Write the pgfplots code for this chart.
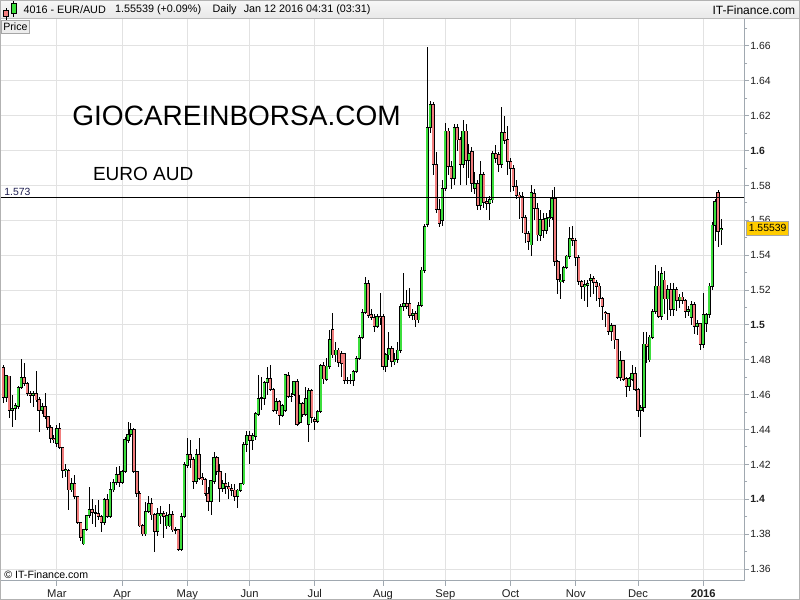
\documentclass[border=0pt]{standalone}
\usepackage{pgfplots}
\pgfplotsset{compat=1.18}
\usepackage{pgfplotstable}
\usepackage{fontspec}
\setmainfont{Liberation Sans}

\definecolor{upfill}{RGB}{60,222,60}
\definecolor{downfill}{RGB}{242,125,125}
\definecolor{gridgray}{RGB}{226,226,226}
\definecolor{framegray}{RGB}{160,168,176}
\definecolor{tagyellow}{RGB}{255,204,0}
\definecolor{levelnavy}{RGB}{30,30,80}

% Daily EUR/AUD candles: k = trading-day index, o h l c = open high low close
\pgfplotstableread{
k o h l c
0 1.4757 1.4771 1.4551 1.4585
1 1.4585 1.4715 1.4560 1.4707
2 1.4707 1.4710 1.4465 1.4512
3 1.4512 1.4598 1.4417 1.4520
4 1.4522 1.4550 1.4455 1.4535
5 1.4535 1.4650 1.4520 1.4642
6 1.4642 1.4805 1.4630 1.4700
7 1.4700 1.4784 1.4650 1.4665
8 1.4665 1.4670 1.4590 1.4608
9 1.4608 1.4620 1.4550 1.4598
10 1.4598 1.4620 1.4532 1.4605
11 1.4605 1.4733 1.4560 1.4570
12 1.4574 1.4585 1.4388 1.4508
13 1.4508 1.4550 1.4490 1.4532
14 1.4532 1.4610 1.4460 1.4474
15 1.4474 1.4480 1.4400 1.4413
16 1.4413 1.4425 1.4320 1.4350
17 1.4350 1.4370 1.4320 1.4345
18 1.4321 1.4425 1.4300 1.4407
19 1.4407 1.4440 1.4290 1.4298
20 1.4298 1.4302 1.4120 1.4165
21 1.4165 1.4200 1.4130 1.4170
22 1.4165 1.4175 1.3939 1.4054
23 1.4054 1.4120 1.4040 1.4092
24 1.4092 1.4140 1.4000 1.4015
25 1.4015 1.4020 1.3860 1.3866
26 1.3866 1.3866 1.3760 1.3782
27 1.3744 1.3830 1.3735 1.3828
28 1.3828 1.3910 1.3820 1.3905
29 1.3905 1.4073 1.3890 1.3943
30 1.3943 1.4000 1.3860 1.3924
31 1.3924 1.3970 1.3840 1.3920
32 1.3920 1.3998 1.3880 1.3901
33 1.3901 1.3910 1.3810 1.3866
34 1.3866 1.4010 1.3850 1.3996
35 1.3996 1.4030 1.3890 1.3901
36 1.3901 1.4100 1.3890 1.4054
37 1.4054 1.4115 1.4040 1.4096
38 1.4096 1.4187 1.4080 1.4140
39 1.4140 1.4190 1.4070 1.4096
40 1.4096 1.4170 1.4090 1.4159
41 1.4159 1.4360 1.4150 1.4340
42 1.4340 1.4445 1.4320 1.4373
43 1.4373 1.4440 1.4360 1.4402
44 1.4402 1.4410 1.4150 1.4159
45 1.4159 1.4165 1.4015 1.4035
46 1.4035 1.4045 1.3840 1.3847
47 1.3847 1.3860 1.3790 1.3801
48 1.3801 1.3985 1.3790 1.3930
49 1.3930 1.4020 1.3920 1.3977
50 1.3977 1.4005 1.3880 1.3910
51 1.3910 1.3920 1.3700 1.3815
52 1.3815 1.3950 1.3790 1.3920
53 1.3905 1.3960 1.3860 1.3920
54 1.3920 1.3935 1.3778 1.3901
55 1.3847 1.3925 1.3830 1.3905
56 1.3847 1.3975 1.3840 1.3910
57 1.3910 1.3935 1.3810 1.3824
58 1.3828 1.3840 1.3800 1.3824
59 1.3824 1.3830 1.3705 1.3713
60 1.3713 1.3920 1.3705 1.3901
61 1.3901 1.4215 1.3890 1.4197
62 1.4193 1.4350 1.4180 1.4258
63 1.4258 1.4340 1.4180 1.4230
64 1.4229 1.4240 1.4060 1.4101
65 1.4101 1.4290 1.4090 1.4254
66 1.4254 1.4350 1.4110 1.4120
67 1.4126 1.4150 1.4080 1.4111
68 1.4111 1.4120 1.4020 1.4034
69 1.4034 1.4072 1.3930 1.3986
70 1.3986 1.4111 1.3910 1.4105
71 1.4105 1.4273 1.4090 1.4240
72 1.4240 1.4250 1.4140 1.4158
73 1.4158 1.4200 1.3986 1.4061
74 1.4061 1.4110 1.4040 1.4088
75 1.4088 1.4150 1.4030 1.4072
76 1.4072 1.4100 1.4000 1.4061
77 1.4061 1.4090 1.4020 1.4053
78 1.4053 1.4088 1.3990 1.4015
79 1.4015 1.4060 1.3948 1.4053
80 1.4053 1.4095 1.4040 1.4088
81 1.4088 1.4330 1.4080 1.4315
82 1.4315 1.4390 1.4273 1.4367
83 1.4367 1.4390 1.4202 1.4340
84 1.4340 1.4380 1.4280 1.4363
85 1.4363 1.4500 1.4340 1.4489
86 1.4489 1.4713 1.4480 1.4579
87 1.4579 1.4700 1.4510 1.4583
88 1.4579 1.4680 1.4540 1.4669
89 1.4669 1.4761 1.4600 1.4690
90 1.4690 1.4770 1.4620 1.4631
91 1.4631 1.4640 1.4500 1.4512
92 1.4512 1.4580 1.4490 1.4560
93 1.4560 1.4570 1.4426 1.4483
94 1.4483 1.4545 1.4470 1.4535
95 1.4512 1.4720 1.4500 1.4713
96 1.4709 1.4730 1.4580 1.4592
97 1.4592 1.4610 1.4560 1.4590
98 1.4600 1.4680 1.4590 1.4675
99 1.4675 1.4690 1.4420 1.4430
100 1.4440 1.4600 1.4430 1.4550
101 1.4550 1.4560 1.4470 1.4487
102 1.4487 1.4642 1.4480 1.4579
103 1.4430 1.4640 1.4330 1.4621
104 1.4621 1.4630 1.4440 1.4468
105 1.4459 1.4470 1.4397 1.4445
106 1.4445 1.4510 1.4440 1.4503
107 1.4503 1.4775 1.4495 1.4766
108 1.4766 1.4790 1.4660 1.4690
109 1.4690 1.4810 1.4680 1.4764
110 1.4764 1.4971 1.4750 1.4914
111 1.4971 1.5067 1.4810 1.4828
112 1.4828 1.4900 1.4790 1.4856
113 1.4856 1.4870 1.4760 1.4784
114 1.4837 1.4850 1.4700 1.4780
115 1.4837 1.4840 1.4660 1.4684
116 1.4684 1.4700 1.4660 1.4680
117 1.4680 1.4720 1.4660 1.4684
118 1.4684 1.4740 1.4650 1.4732
119 1.4732 1.4820 1.4725 1.4808
120 1.4808 1.4940 1.4800 1.4929
121 1.4929 1.5090 1.4920 1.5072
122 1.5072 1.5277 1.5060 1.5239
123 1.5239 1.5260 1.5040 1.5057
124 1.5057 1.5090 1.5030 1.5044
125 1.5044 1.5060 1.4960 1.4994
126 1.4994 1.5060 1.4980 1.5048
127 1.5048 1.5181 1.5000 1.5040
128 1.5048 1.5060 1.4740 1.4761
129 1.4761 1.4840 1.4730 1.4828
130 1.4828 1.4960 1.4800 1.4866
131 1.4866 1.4880 1.4760 1.4790
132 1.4790 1.4840 1.4770 1.4800
133 1.4800 1.4900 1.4780 1.4856
134 1.4856 1.5120 1.4840 1.5105
135 1.5105 1.5296 1.5080 1.5124
136 1.5124 1.5200 1.5090 1.5105
137 1.5124 1.5210 1.5040 1.5057
138 1.5057 1.5090 1.5030 1.5067
139 1.5067 1.5080 1.4990 1.5029
140 1.5029 1.5130 1.5010 1.5110
141 1.5110 1.5330 1.5100 1.5315
142 1.5315 1.5580 1.5300 1.5564
143 1.5579 1.6596 1.5560 1.6133
144 1.6133 1.6285 1.6100 1.6265
145 1.6265 1.6280 1.5860 1.5921
146 1.5921 1.5994 1.5640 1.5663
147 1.5663 1.5720 1.5560 1.5583
148 1.5602 1.5830 1.5570 1.5784
149 1.5784 1.6156 1.5770 1.6112
150 1.6112 1.6130 1.5860 1.5908
151 1.5908 1.5940 1.5780 1.5841
152 1.5841 1.6150 1.5800 1.6133
153 1.6133 1.6150 1.6000 1.6061
154 1.6061 1.6080 1.5800 1.5923
155 1.5923 1.6176 1.5900 1.6112
156 1.6112 1.6150 1.5800 1.5946
157 1.5946 1.6040 1.5840 1.5984
158 1.5994 1.6020 1.5760 1.5812
159 1.5784 1.5880 1.5750 1.5812
160 1.5812 1.5830 1.5659 1.5684
161 1.5684 1.5940 1.5660 1.5860
162 1.5860 1.5880 1.5670 1.5701
163 1.5707 1.5730 1.5660 1.5698
164 1.5698 1.5740 1.5600 1.5717
165 1.5717 1.6000 1.5700 1.5984
166 1.5984 1.6030 1.5930 1.5956
167 1.5975 1.5990 1.5880 1.5923
168 1.5923 1.6250 1.5900 1.6105
169 1.6105 1.6200 1.6040 1.6061
170 1.6061 1.6141 1.5860 1.5936
171 1.5936 1.5960 1.5760 1.5898
172 1.5898 1.5920 1.5770 1.5793
173 1.5793 1.5830 1.5720 1.5745
174 1.5745 1.5760 1.5610 1.5736
175 1.5736 1.5760 1.5530 1.5617
176 1.5617 1.5630 1.5470 1.5525
177 1.5525 1.5540 1.5430 1.5478
178 1.5459 1.5800 1.5395 1.5761
179 1.5755 1.5780 1.5600 1.5669
180 1.5669 1.5700 1.5480 1.5516
181 1.5516 1.5660 1.5480 1.5606
182 1.5606 1.5640 1.5500 1.5540
183 1.5540 1.5640 1.5520 1.5612
184 1.5612 1.5660 1.5560 1.5617
185 1.5617 1.5774 1.5600 1.5726
186 1.5726 1.5793 1.5340 1.5363
187 1.5363 1.5370 1.5180 1.5262
188 1.5248 1.5290 1.5150 1.5257
189 1.5257 1.5340 1.5240 1.5331
190 1.5331 1.5400 1.5320 1.5395
191 1.5395 1.5560 1.5380 1.5497
192 1.5497 1.5570 1.5450 1.5485
193 1.5485 1.5500 1.5340 1.5387
194 1.5387 1.5400 1.5230 1.5248
195 1.5248 1.5260 1.5150 1.5223
196 1.5223 1.5260 1.5140 1.5229
197 1.5229 1.5260 1.5105 1.5238
198 1.5257 1.5290 1.5160 1.5267
199 1.5267 1.5280 1.5180 1.5245
200 1.5245 1.5260 1.5140 1.5223
201 1.5223 1.5240 1.5100 1.5150
202 1.5150 1.5160 1.5030 1.5105
203 1.5072 1.5080 1.4990 1.5067
204 1.5067 1.5070 1.4940 1.4962
205 1.4962 1.5010 1.4910 1.4995
206 1.4995 1.5000 1.4860 1.4914
207 1.4914 1.4920 1.4690 1.4700
208 1.4700 1.4850 1.4680 1.4795
209 1.4795 1.4800 1.4680 1.4690
210 1.4690 1.4700 1.4589 1.4646
211 1.4646 1.4700 1.4620 1.4690
212 1.4690 1.4770 1.4680 1.4723
213 1.4723 1.4760 1.4620 1.4630
214 1.4630 1.4640 1.4470 1.4508
215 1.4508 1.4540 1.4359 1.4527
216 1.4527 1.4960 1.4500 1.4890
217 1.4890 1.4960 1.4780 1.4875
218 1.4799 1.4940 1.4790 1.4930
219 1.4930 1.5090 1.4920 1.5076
220 1.5076 1.5344 1.5060 1.5223
221 1.5223 1.5310 1.5040 1.5051
222 1.5051 1.5330 1.5030 1.5296
223 1.5257 1.5310 1.5060 1.5149
224 1.5149 1.5230 1.5030 1.5204
225 1.5204 1.5240 1.5050 1.5090
226 1.5090 1.5240 1.5050 1.5204
227 1.5204 1.5220 1.5080 1.5140
228 1.5140 1.5180 1.5100 1.5160
229 1.5160 1.5190 1.5120 1.5140
230 1.5140 1.5150 1.5040 1.5080
231 1.5080 1.5110 1.5050 1.5086
232 1.5045 1.5140 1.5000 1.5118
233 1.5118 1.5130 1.4950 1.4990
234 1.4990 1.5030 1.4940 1.5009
235 1.5009 1.5010 1.4856 1.4890
236 1.4890 1.5183 1.4870 1.5059
237 1.5009 1.5070 1.4960 1.5059
238 1.5059 1.5240 1.5040 1.5223
239 1.5223 1.5590 1.5200 1.5573
240 1.5573 1.5720 1.5480 1.5707
241 1.5759 1.5776 1.5449 1.5535
242 1.5545 1.5610 1.5460 1.5554
}\eurtable

% one layer of candle strokes: an invisible plot whose vertical error bars are the strokes
\pgfplotsset{
  candle layer/.style={draw=none, mark=none,
    error bars/.cd, y dir=both, y explicit, error mark=none,
    error bar style={draw=#1}},
}

\begin{document}
\begin{tikzpicture}
\path[use as bounding box, fill=white] (0pt,0pt) rectangle (400pt,300pt);

\begin{axis}[
  at={(0pt,9.5pt)}, anchor=south west,
  scale only axis, width=372pt, height=281pt,
  xmin=-1.18, xmax=249.75, ymin=1.353119, ymax=1.675487,
  clip=false,
  axis line style={draw=framegray, line width=0.5pt},
  xtick={18,40,62,83,105,128,149,171,193,214,236},
  xticklabels={Mar,Apr,May,Jun,Jul,Aug,Sep,Oct,Nov,Dec,\textbf{2016}},
  ytick={1.36,1.38,1.40,1.42,1.44,1.46,1.48,1.50,1.52,1.54,1.56,1.58,1.60,1.62,1.64,1.66},
  yticklabels={1.36,1.38,\textbf{1.4},1.42,1.44,1.46,1.48,\textbf{1.5},1.52,1.54,1.56,1.58,\textbf{1.6},1.62,1.64,1.66},
  minor ytick={1.37,1.39,1.41,1.43,1.45,1.47,1.49,1.51,1.53,1.55,1.57,1.59,1.61,1.63,1.65,1.67},
  grid=major, major grid style={draw=gridgray, line width=0.5pt},
  xtick pos=left, ytick pos=right, yticklabel pos=right,
  tick align=outside, major tick length=2.5pt, minor tick length=1.5pt,
  tick style={draw=framegray, line width=0.5pt},
  xticklabel style={font=\fontsize{5.6}{6.5}\selectfont, text=black!88, anchor=north, inner sep=0pt, yshift=-1.5pt},
  yticklabel style={font=\fontsize{5.2}{6}\selectfont, text=black!88, anchor=west, inner sep=0pt, xshift=0.5pt},
]
% wicks
\addplot[candle layer={black, line width=0.5pt}]
  table[x=k, y expr={(\thisrow{h}+\thisrow{l})/2}, y error expr={(\thisrow{h}-\thisrow{l})/2}]{\eurtable};
% body outline
\addplot[candle layer={black, line width=1.6pt}]
  table[x=k, y expr={(\thisrow{o}+\thisrow{c})/2}, y error expr={abs(\thisrow{c}-\thisrow{o})/2+0.0003}]{\eurtable};
% rising bodies (zero length where the close is below the open)
\addplot[candle layer={upfill, line width=1.0pt}]
  table[x=k, y expr={(\thisrow{o}+\thisrow{c})/2},
        y error expr={(\thisrow{c}>=\thisrow{o}) ? max(abs(\thisrow{c}-\thisrow{o})/2-0.0002,0) : 0}]{\eurtable};
% falling bodies
\addplot[candle layer={downfill, line width=1.0pt}]
  table[x=k, y expr={(\thisrow{o}+\thisrow{c})/2},
        y error expr={(\thisrow{c}<\thisrow{o}) ? max(abs(\thisrow{c}-\thisrow{o})/2-0.0002,0) : 0}]{\eurtable};
% horizontal level
\addplot[black, line width=0.5pt] coordinates {(-1.18,1.573) (249.75,1.573)};
\node[anchor=south west, inner sep=0pt, font=\fontsize{5.2}{6}\selectfont, text=levelnavy]
  at (axis cs:-1.18,1.573) [xshift=2pt, yshift=0.9pt] {1.573};
% last price tag
\node[anchor=west, fill=tagyellow, draw=gray!70, line width=0.4pt, inner xsep=1.2pt, inner ysep=0pt,
  minimum height=7pt, font=\fontsize{5.2}{6}\selectfont]
  at (axis cs:249.75,1.55539) [xshift=1pt] {1.55539};
\end{axis}

% header band
\shade[top color=gray!6, bottom color=gray!18] (0pt,291pt) rectangle (400pt,300pt);
\draw[gray!55, line width=0.5pt] (0pt,290.75pt) -- (400pt,290.75pt);
% header icon
\draw[black, line width=0.4pt] (3pt,289.5pt) -- (3pt,296pt);
\draw[black, line width=0.3pt, fill=downfill] (1.6pt,291.8pt) rectangle (4.4pt,295pt);
\draw[black, line width=0.4pt] (6.9pt,291.5pt) -- (6.9pt,299.5pt);
\draw[black, line width=0.3pt, fill=upfill] (5.6pt,293.3pt) rectangle (8.2pt,298.3pt);
\begin{scope}[every node/.style={anchor=west, inner sep=0pt, font=\fontsize{5.4}{6}\selectfont}]
\node at (11.6pt,295pt) {4016 - EUR/AUD};
\node at (57.3pt,295pt) {1.55539 (+0.09\%)};
\node at (106.1pt,295pt) {Daily};
\node at (121.7pt,295pt) {Jan 12 2016 04:31 (03:31)};
\end{scope}
\node[anchor=east, inner sep=0pt, font=\fontsize{6}{7}\selectfont] at (397.8pt,295pt) {IT-Finance.com};
% Price tab
\draw[gray!70, fill=gray!14, line width=0.4pt] (0.6pt,283.4pt) rectangle (14.7pt,289.8pt);
\node[inner sep=0pt, font=\fontsize{5.3}{6}\selectfont] at (7.7pt,286.5pt) {Price};
% captions
\node[anchor=west, inner sep=0pt, font=\fontsize{14}{16}\selectfont] at (36pt,242pt) {GIOCAREINBORSA.COM};
\node[anchor=west, inner sep=0pt, font=\fontsize{9.5}{11}\selectfont] at (46.3pt,212.85pt) {EURO AUD};
\node[anchor=west, inner sep=0pt, font=\fontsize{5.3}{6}\selectfont] at (2pt,12.5pt) {\textcopyright\ IT-Finance.com};
% outer frame
\draw[gray!60, line width=0.5pt] (0.25pt,0.25pt) rectangle (399.75pt,299.75pt);
\end{tikzpicture}
\end{document}
